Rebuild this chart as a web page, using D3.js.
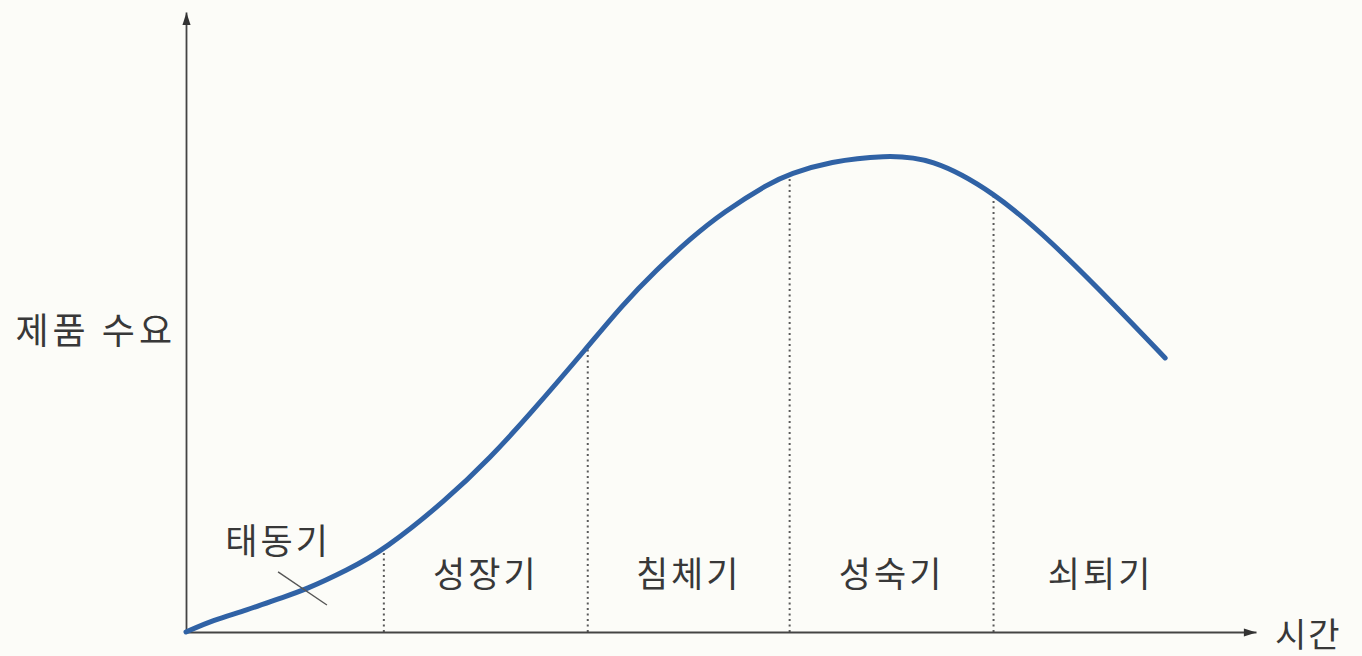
<!DOCTYPE html>
<html>
<head>
<meta charset="utf-8">
<script src="https://cdn.jsdelivr.net/npm/d3@7"></script>
<style>
  html, body { margin: 0; padding: 0; background: #fcfcf8; }
  svg { display: block; }
  text { font-family: "Noto Sans CJK KR", "Noto Sans", sans-serif; fill: #383838; }
</style>
</head>
<body>
<svg id="chart"></svg>
<script>
// product life cycle curve (time in stage units, demand 0-100)
const timeVals   = [0, 0.13, 0.30, 0.47, 0.59, 0.80, 0.98, 1.29, 1.51, 1.70, 1.99, 2.16, 2.33, 2.50, 2.66, 2.89, 2.99, 3.19, 3.46, 3.69, 4.0, 4.28, 4.61, 4.85];
const demandVals = [0, 1.9, 3.5, 5.5, 6.8, 10.0, 13.2, 21.3, 28.2, 35.0, 46.0, 52.7, 58.4, 63.5, 67.7, 72.4, 73.9, 75.9, 76.9, 76.5, 71.0, 63.2, 52.4, 44.2];

// stage boundaries and names
const stageBounds = [0.98, 1.99, 2.99, 4.0];
const stageNames  = ["성장기", "침체기", "성숙기", "쇠퇴기"];
const stageEnd    = 5.06;

const firstStage = "태동기";
const yLabel = "제품 수요";
const xLabel = "시간";

const width = 1362, height = 656;

const svg = d3.select("#chart").attr("width", width).attr("height", height);

const x = d3.scaleLinear().domain([0, 5.3]).range([186, 1256]);
const y = d3.scaleLinear().domain([0, 100]).range([632, 12]);

// arrow head
svg.append("defs").append("marker")
    .attr("id", "arrow")
    .attr("viewBox", "0 0 14 10")
    .attr("refX", 14).attr("refY", 5)
    .attr("markerWidth", 14).attr("markerHeight", 9)
    .attr("markerUnits", "userSpaceOnUse")
    .attr("orient", "auto")
  .append("path")
    .attr("d", "M0,0.5L14,5L0,9.5Z")
    .attr("fill", "#333");

// dotted stage lines go under the curve, filled in once the curve exists
const guides = svg.append("g").attr("class", "guides");

// axes: plain lines, no ticks
const xAxis = svg.append("g")
    .attr("transform", `translate(0,${y(0)})`)
    .call(d3.axisBottom(x).tickValues([]).tickSizeOuter(0));
const yAxis = svg.append("g")
    .attr("transform", `translate(${x(0)},0)`)
    .call(d3.axisLeft(y).tickValues([]).tickSizeOuter(0));

[xAxis, yAxis].forEach(g => g.select(".domain")
    .attr("stroke", "#444").attr("stroke-width", 1.8)
    .attr("marker-end", "url(#arrow)"));

// the curve
const points = timeVals.map((t, i) => [t, demandVals[i]]);
const curvePath = svg.append("path")
    .datum(points)
    .attr("fill", "none")
    .attr("stroke", "#3062a5")
    .attr("stroke-width", 5)
    .attr("stroke-linecap", "round")
    .attr("d", d3.line().x(d => x(d[0])).y(d => y(d[1])).curve(d3.curveBasis));

// height of the drawn curve at a screen x (walk the path)
const pathNode = curvePath.node();
const pathLen = pathNode.getTotalLength();
function curveYAt(px) {
  let lo = 0, hi = pathLen;
  for (let k = 0; k < 40; k++) {
    const mid = (lo + hi) / 2;
    if (pathNode.getPointAtLength(mid).x < px) lo = mid; else hi = mid;
  }
  return pathNode.getPointAtLength(lo).y;
}

guides.selectAll("line")
  .data(stageBounds)
  .join("line")
    .attr("x1", d => x(d)).attr("x2", d => x(d))
    .attr("y1", y(0)).attr("y2", d => curveYAt(x(d)))
    .attr("stroke", "#5a5a5a")
    .attr("stroke-width", 2)
    .attr("stroke-dasharray", "2,3.5");

// stage labels
const starts = stageBounds;
const ends = stageBounds.slice(1).concat([stageEnd]);
svg.append("g").selectAll("text")
  .data(stageNames)
  .join("text")
    .attr("x", (d, i) => x((starts[i] + ends[i]) / 2))
    .attr("y", y(9.3))
    .attr("dy", "0.35em")
    .attr("text-anchor", "middle")
    .style("font-size", "35px")
    .style("letter-spacing", "3px")
    .text(d => d);

// first stage label with leader line
svg.append("text")
    .attr("x", x(0.456)).attr("y", y(14.5))
    .attr("dy", "0.35em")
    .attr("text-anchor", "middle")
    .style("font-size", "35px")
    .style("letter-spacing", "3px")
    .text(firstStage);

svg.append("line")
    .attr("x1", x(0.456)).attr("y1", y(9.7))
    .attr("x2", x(0.698)).attr("y2", y(4.35))
    .attr("stroke", "#555").attr("stroke-width", 1.4);

// axis labels
svg.append("text")
    .attr("x", 176).attr("y", y(48.5))
    .attr("dy", "0.35em")
    .attr("text-anchor", "end")
    .style("font-size", "36px")
    .style("letter-spacing", "4px")
    .text(yLabel);

svg.append("text")
    .attr("x", 1275).attr("y", y(0) + 4)
    .attr("dy", "0.33em")
    .attr("text-anchor", "start")
    .style("font-size", "34px")
    .style("letter-spacing", "2px")
    .text(xLabel);
</script>
</body>
</html>
